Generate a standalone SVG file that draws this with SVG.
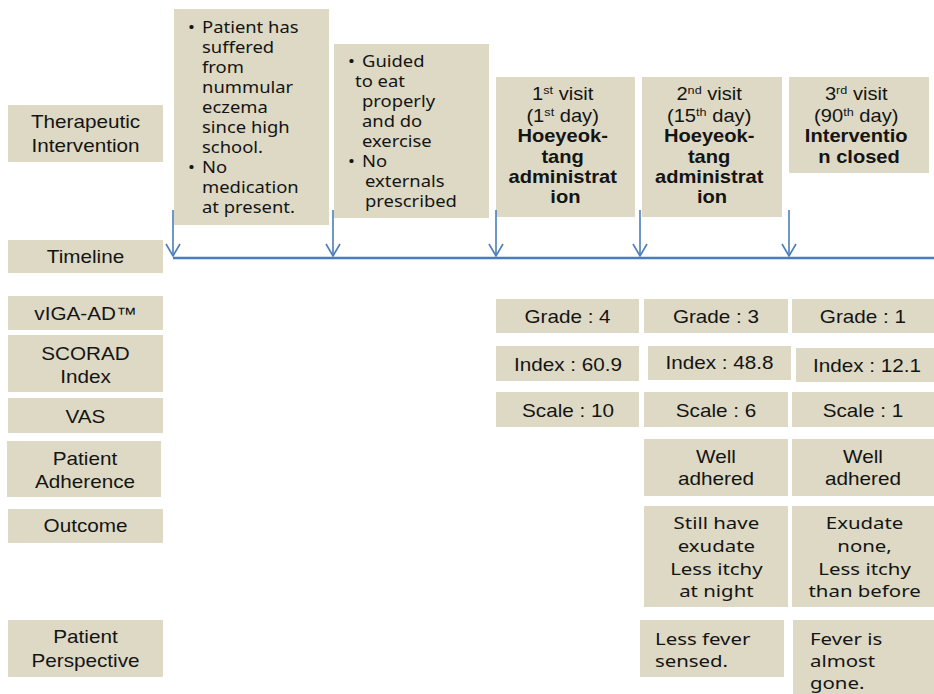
<svg xmlns="http://www.w3.org/2000/svg" width="934" height="694" viewBox="0 0 934 694">
<defs>
<style>
.box{fill:#DDD9C4;}
.t{font-family:"Liberation Sans",Arial,sans-serif;font-size:18px;fill:#141414;text-anchor:middle;}
.v{font-family:"Liberation Sans",Arial,sans-serif;font-size:17.5px;fill:#141414;text-anchor:middle;}
.b{font-weight:bold;}
.k{font-family:"Noto Sans","Open Sans",sans-serif;font-size:16px;fill:#141414;}
.ko{font-family:"Noto Sans","Open Sans",sans-serif;font-size:17px;fill:#141414;}
.km{text-anchor:middle;}
.sup{font-size:11px;}
.conn{stroke:#4A7EBB;fill:none;}
</style>
<marker id="arr" markerUnits="userSpaceOnUse" markerWidth="16" markerHeight="18" viewBox="-14 -9 16 18" refX="0" refY="0" orient="auto" overflow="visible">
<path d="M-12,-7 L0,0 L-12,7" fill="none" stroke="#4A7EBB" stroke-width="1.6"/>
</marker>
</defs>
<rect width="934" height="694" fill="#ffffff"/>

<!-- Left row labels -->
<g id="lbl-therapeutic"><rect class="box" x="8" y="105" width="155" height="57"/>
<text class="t" transform="scale(1.15 1)"><tspan x="74.35" y="128">Therapeutic</tspan><tspan x="74.35" y="152">Intervention</tspan></text></g>
<g id="lbl-timeline"><rect class="box" x="8" y="240" width="155" height="33"/>
<text class="t" transform="scale(1.15 1)" x="74.35" y="263">Timeline</text></g>
<g id="lbl-viga"><rect class="box" x="8" y="296" width="155" height="34"/>
<text class="t" transform="scale(1.15 1)" x="74.35" y="320">vIGA-AD™</text></g>
<g id="lbl-scorad"><rect class="box" x="8" y="335" width="155" height="57"/>
<text class="t" transform="scale(1.15 1)"><tspan x="74.35" y="360">SCORAD</tspan><tspan x="74.35" y="383">Index</tspan></text></g>
<g id="lbl-vas"><rect class="box" x="8" y="398" width="155" height="35"/>
<text class="t" transform="scale(1.15 1)" x="74.35" y="423">VAS</text></g>
<g id="lbl-adherence"><rect class="box" x="7" y="441" width="154" height="56"/>
<text class="t" transform="scale(1.15 1)"><tspan x="73.9" y="465">Patient</tspan><tspan x="73.9" y="488">Adherence</tspan></text></g>
<g id="lbl-outcome"><rect class="box" x="8" y="509" width="155" height="34"/>
<text class="t" transform="scale(1.15 1)" x="74.35" y="532">Outcome</text></g>
<g id="lbl-perspective"><rect class="box" x="8" y="620" width="155" height="57"/>
<text class="t" transform="scale(1.15 1)"><tspan x="74.35" y="643">Patient</tspan><tspan x="74.35" y="667">Perspective</tspan></text></g>

<!-- Timeline boxes -->
<g id="ev-history"><rect class="box" x="174" y="9" width="155" height="216"/>
<text class="k" transform="scale(1.15 1)">
<tspan x="163.5" y="33">•</tspan><tspan x="175.7" y="33">Patient has</tspan>
<tspan x="175.7" y="53">suffered</tspan>
<tspan x="175.7" y="73">from</tspan>
<tspan x="175.7" y="93">nummular</tspan>
<tspan x="175.7" y="113">eczema</tspan>
<tspan x="175.7" y="133">since high</tspan>
<tspan x="175.7" y="153">school.</tspan>
<tspan x="163.5" y="173">•</tspan><tspan x="175.7" y="173">No</tspan>
<tspan x="175.7" y="193">medication</tspan>
<tspan x="175.7" y="213">at present.</tspan>
</text></g>

<g id="ev-guidance"><rect class="box" x="334" y="44" width="155" height="174"/>
<text class="k" transform="scale(1.15 1)">
<tspan x="302.6" y="67">•</tspan><tspan x="314.8" y="67">Guided</tspan>
<tspan x="308.7" y="87">to eat</tspan>
<tspan x="314.8" y="107">properly</tspan>
<tspan x="314.8" y="127">and do</tspan>
<tspan x="314.8" y="147">exercise</tspan>
<tspan x="302.6" y="167">•</tspan><tspan x="314.8" y="167">No</tspan>
<tspan x="317.4" y="187">externals</tspan>
<tspan x="317.4" y="207">prescribed</tspan>
</text></g>

<g id="ev-visit1"><rect class="box" x="496" y="77" width="139" height="140"/>
<text class="v" transform="scale(1.15 1)">
<tspan x="491.7" y="100">1<tspan class="sup" dy="-6">st</tspan><tspan dy="6"> visit</tspan></tspan>
<tspan x="491.7" y="122">(1<tspan class="sup" dy="-6">st</tspan><tspan dy="6"> day)</tspan></tspan>
<tspan class="b" x="491.7" y="142">Hoeyeok-</tspan>
<tspan class="b" x="491.7" y="163">tang</tspan>
<tspan class="b" x="491.7" y="183">administrat</tspan>
<tspan class="b" x="491.7" y="203">ion</tspan>
</text></g>

<g id="ev-visit2"><rect class="box" x="642" y="77" width="140" height="140"/>
<text class="v" transform="scale(1.15 1)">
<tspan x="619.1" y="100">2<tspan class="sup" dy="-6">nd</tspan><tspan dy="6"> visit</tspan></tspan>
<tspan x="619.1" y="122">(15<tspan class="sup" dy="-6">th</tspan><tspan dy="6"> day)</tspan></tspan>
<tspan class="b" x="619.1" y="142">Hoeyeok-</tspan>
<tspan class="b" x="619.1" y="163">tang</tspan>
<tspan class="b" x="619.1" y="183">administrat</tspan>
<tspan class="b" x="619.1" y="203">ion</tspan>
</text></g>

<g id="ev-visit3"><rect class="box" x="789" y="77" width="140" height="96"/>
<text class="v" transform="scale(1.15 1)">
<tspan x="747" y="100">3<tspan class="sup" dy="-6">rd</tspan><tspan dy="6"> visit</tspan></tspan>
<tspan x="747" y="122">(90<tspan class="sup" dy="-6">th</tspan><tspan dy="6"> day)</tspan></tspan>
<tspan class="b" x="747" y="142">Interventio</tspan>
<tspan class="b" x="747" y="163">n closed</tspan>
</text></g>

<!-- Connectors -->
<g id="connectors" class="conn">
<line x1="173" y1="258" x2="934" y2="258" stroke-width="2.5"/>
<line x1="173" y1="210" x2="173" y2="256" stroke-width="1.6" marker-end="url(#arr)"/>
<line x1="333" y1="210" x2="333" y2="256" stroke-width="1.6" marker-end="url(#arr)"/>
<line x1="496" y1="210" x2="496" y2="256" stroke-width="1.6" marker-end="url(#arr)"/>
<line x1="640" y1="210" x2="640" y2="256" stroke-width="1.6" marker-end="url(#arr)"/>
<line x1="789" y1="210" x2="789" y2="256" stroke-width="1.6" marker-end="url(#arr)"/>
</g>

<!-- vIGA-AD -->
<g id="viga-1"><rect class="box" x="496" y="299" width="143" height="34"/>
<text class="t" transform="scale(1.15 1)" x="493.5" y="323">Grade : 4</text></g>
<g id="viga-2"><rect class="box" x="644" y="299" width="144" height="34"/>
<text class="t" transform="scale(1.15 1)" x="622.6" y="323">Grade : 3</text></g>
<g id="viga-3"><rect class="box" x="792" y="299" width="142" height="34"/>
<text class="t" transform="scale(1.15 1)" x="750.4" y="323">Grade : 1</text></g>

<!-- SCORAD -->
<g id="scorad-1"><rect class="box" x="496" y="346" width="143" height="35"/>
<text class="t" transform="scale(1.15 1)" x="493.9" y="371">Index : 60.9</text></g>
<g id="scorad-2"><rect class="box" x="648" y="346" width="143" height="34"/>
<text class="t" transform="scale(1.15 1)" x="625.7" y="369">Index : 48.8</text></g>
<g id="scorad-3"><rect class="box" x="796" y="348" width="138" height="34"/>
<text class="t" transform="scale(1.15 1)" x="753.9" y="372">Index : 12.1</text></g>

<!-- VAS -->
<g id="vas-1"><rect class="box" x="496" y="392" width="143" height="35"/>
<text class="t" transform="scale(1.15 1)" x="493.9" y="417">Scale : 10</text></g>
<g id="vas-2"><rect class="box" x="644" y="392" width="144" height="35"/>
<text class="t" transform="scale(1.15 1)" x="622.6" y="417">Scale : 6</text></g>
<g id="vas-3"><rect class="box" x="792" y="392" width="142" height="35"/>
<text class="t" transform="scale(1.15 1)" x="750.4" y="417">Scale : 1</text></g>

<!-- Adherence -->
<g id="adh-2"><rect class="box" x="644" y="439" width="144" height="57"/>
<text class="t" transform="scale(1.15 1)"><tspan x="622.6" y="463">Well</tspan><tspan x="622.6" y="485">adhered</tspan></text></g>
<g id="adh-3"><rect class="box" x="792" y="439" width="142" height="57"/>
<text class="t" transform="scale(1.15 1)"><tspan x="750.4" y="463">Well</tspan><tspan x="750.4" y="485">adhered</tspan></text></g>

<!-- Outcome -->
<g id="out-2"><rect class="box" x="644" y="506" width="144" height="101"/>
<text class="ko km" transform="scale(1.2 1)"><tspan x="597" y="529">Still have</tspan><tspan x="597" y="552">exudate</tspan><tspan x="597" y="575">Less itchy</tspan><tspan x="597" y="597">at night</tspan></text></g>
<g id="out-3"><rect class="box" x="792" y="506" width="142" height="101"/>
<text class="ko km" transform="scale(1.2 1)"><tspan x="720.5" y="529">Exudate</tspan><tspan x="720.5" y="552">none,</tspan><tspan x="720.5" y="575">Less itchy</tspan><tspan x="720.5" y="597">than before</tspan></text></g>

<!-- Patient perspective -->
<g id="persp-2"><rect class="box" x="640" y="620" width="144" height="57"/>
<text class="ko" transform="scale(1.2 1)"><tspan x="545.8" y="645">Less fever</tspan><tspan x="545.8" y="667">sensed.</tspan></text></g>
<g id="persp-3"><rect class="box" x="793" y="620" width="141" height="74"/>
<text class="ko" transform="scale(1.2 1)"><tspan x="675" y="645">Fever is</tspan><tspan x="675" y="667">almost</tspan><tspan x="675" y="689">gone.</tspan></text></g>
</svg>
